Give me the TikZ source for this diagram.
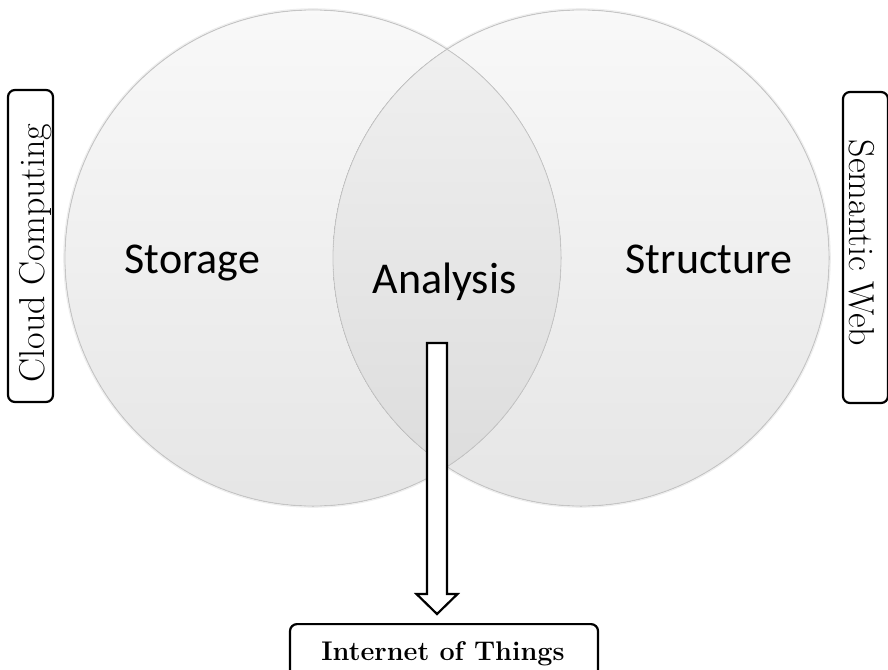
\documentclass[tikz,border=0pt]{standalone}
\usepackage{fontspec}
\newfontfamily\calibri{Carlito}
\usetikzlibrary{calc}
\tikzset{
  setlabel/.style={font=\calibri\fontsize{44}{48}\selectfont, inner sep=0pt, anchor=base},
  sidebox/.style={draw=black, line width=2.2pt, rounded corners=7pt, inner sep=0pt},
  sidetext/.style={font=\fontsize{36}{40}\selectfont, inner sep=0pt, anchor=base},
  rim/.style={draw=gray!45, line width=0.8pt},
  halo/.style={draw=gray!30, line width=1.6pt, opacity=0.45},
}
\begin{document}
\begin{tikzpicture}[x=1pt,y=-1pt]
  \useasboundingbox (0,0) rectangle (888,669);
  % centres of the two sets
  \coordinate (cl) at (313,258);
  \coordinate (cr) at (581,258);
  \def\rad{248}
  % soft edge round each disc
  \draw[halo] (cl) circle (\rad+1);
  \draw[halo] (cr) circle (\rad+1);
  % the two discs
  \fill[top color=gray!5, bottom color=gray!20] (cl) circle (\rad);
  \fill[top color=gray!5, bottom color=gray!20] (cr) circle (\rad);
  % their common part
  \begin{scope}
    \clip (cl) circle (\rad);
    \fill[top color=gray!11, bottom color=gray!28] (cr) circle (\rad);
  \end{scope}
  \draw[rim] (cl) circle (\rad);
  \draw[rim] (cr) circle (\rad);

  % set labels
  \node[setlabel] (storage) at (192.5,273) {Storage};
  \node[setlabel] (analysis) at (444.5,293) {Analysis};
  \node[setlabel] (structure) at (709,273) {Structure};

  % side labels
  \node[sidebox, minimum width=45pt, minimum height=312pt] (cloudbox) at (30.5,246) {};
  \node[sidetext, rotate=90] (cloud) at (44,253) {Cloud Computing};
  \node[sidebox, minimum width=45pt, minimum height=311pt] (webbox) at (865.5,247.5) {};
  \node[sidetext, rotate=-90] (web) at (849,243) {Semantic Web};

  % bottom label, its box running past the lower edge
  \node[draw=black, line width=2.2pt, rounded corners=7pt, inner sep=0pt,
        minimum width=308pt, minimum height=80pt, anchor=north] (iotbox) at (444,623) {};
  \node[font=\bfseries\fontsize{27}{32}\selectfont, inner sep=0pt, anchor=base] (iot) at (443,660) {Internet of Things};

  % hollow block arrow from the common part down to the bottom label
  \coordinate (tail) at (437,343);
  \coordinate (tip) at (437,614);
  \draw[line width=2.2pt, fill=white, line join=miter]
    ($(tail)+(-10,0)$) -- ($(tail)+(10,0)$) -- ($(tip)+(10,-20)$) -- ($(tip)+(20.5,-20)$)
    -- (tip) -- ($(tip)+(-20.5,-20)$) -- ($(tip)+(-10,-20)$) -- cycle;
\end{tikzpicture}
\end{document}
